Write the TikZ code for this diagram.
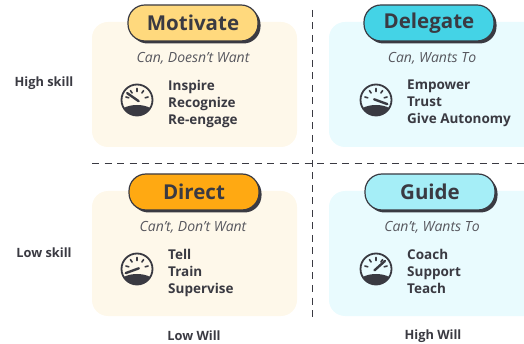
\documentclass[tikz,border=0pt]{standalone}
\usepackage{fontspec}
\setmainfont{Open Sans}
\definecolor{ink}{HTML}{3A3A42}
\definecolor{warm}{HTML}{FEF8EA}
\definecolor{cool}{HTML}{E9FBFE}
\definecolor{cyel}{HTML}{FFD97D}
\definecolor{corg}{HTML}{FFA912}
\definecolor{ccya}{HTML}{44D3E6}
\definecolor{clcy}{HTML}{A5EEF7}
\newcommand{\gaugeicon}[3]{%
 \begin{scope}[shift={(#1,#2)},yscale=-1]
  \fill[ink] (-13.3,-8) .. controls (-6,-4) and (6,-4) .. (13.3,-8) arc[start angle=-31,end angle=-149,radius=15.5] -- cycle;
  \draw[ink,line width=1.8pt] (0,0) circle[radius=15.5];
  \foreach \a in {15,55,90,125,165}{\draw[ink,line width=1.6pt,line cap=round] (\a:8.5) -- (\a:11.5);}
  \draw[ink,line width=2.4pt,line cap=round] (#3:12) -- (#3+180:2);
 \end{scope}}
\tikzset{
 panel/.style={rounded corners=16pt},
 pilltext/.style={font=\bfseries\fontsize{20.5}{20}\selectfont,text=ink,anchor=center},
 sub/.style={font=\itshape\fontsize{14}{14}\selectfont,text=ink!85,anchor=center},
 acts/.style={font=\bfseries\fontsize{13.5}{17}\selectfont,text=ink,anchor=north west,align=left,inner sep=0pt},
 axis/.style={font=\bfseries\fontsize{12.8}{14}\selectfont,text=ink,anchor=center},
 divider/.style={draw=ink,line width=1pt,dash pattern=on 7pt off 5.5pt},
}
\newcommand{\pill}[5]{%
 \fill[ink,rounded corners=17pt] (#1+2.5,#2+2.5) rectangle ++(130,36);
 \draw[ink,line width=1.2pt,fill=#3,rounded corners=17pt] (#1,#2) rectangle ++(130,36);
 \node[pilltext] (#5) at (#1+65,#2+18) {#4};}
\begin{document}
\begin{tikzpicture}[x=1pt,y=-1pt]
\useasboundingbox (0,0) rectangle (524,344);
\clip (0,0) rectangle (524,344);
\fill[warm,panel] (92,22) rectangle (297,147);
\fill[cool,panel] (329,22) rectangle (550,147);
\fill[warm,panel] (92,191) rectangle (297,316);
\fill[cool,panel] (329,191) rectangle (550,316);
\draw[divider] (92,163.5) -- (524,163.5);
\draw[divider] (312,10) -- (312,320);
\pill{128}{5}{cyel}{Motivate}{mot}
\pill{364}{5}{ccya}{Delegate}{del}
\pill{129}{174}{corg}{Direct}{dir}
\pill{365}{174}{clcy}{Guide}{gui}
\node[sub] (s1) at (193,58) {Can, Doesn’t Want};
\node[sub] (s2) at (432,58) {Can, Wants To};
\node[sub] (s3) at (193,227) {Can’t, Don’t Want};
\node[sub] (s4) at (432,227) {Can’t, Wants To};
\gaugeicon{137}{100}{145}
\gaugeicon{376}{100}{-20}
\gaugeicon{137}{269}{200}
\gaugeicon{376}{269}{42}
\node[acts] (a1) at (168,80) {Inspire\\Recognize\\Re-engage};
\node[acts] (a2) at (407,80) {Empower\\Trust\\Give Autonomy};
\node[acts] (a3) at (168,249) {Tell\\Train\\Supervise};
\node[acts] (a4) at (407,249) {Coach\\Support\\Teach};
\node[axis] (hs) at (44,83) {High skill};
\node[axis] (ls) at (44,253) {Low skill};
\node[axis] (lw) at (194,336) {Low Will};
\node[axis] (hw) at (433,336) {High Will};
\end{tikzpicture}
\end{document}
